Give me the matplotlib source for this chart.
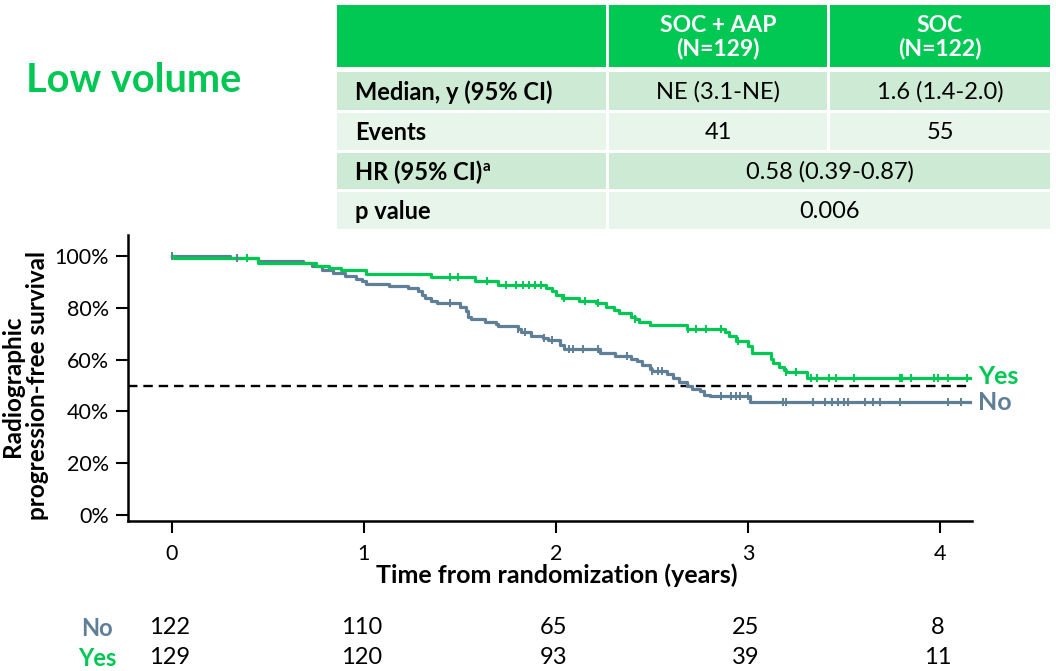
import numpy as np
import matplotlib
matplotlib.use("Agg")
import matplotlib.pyplot as plt
import matplotlib.transforms as mtransforms
from matplotlib.patches import Rectangle

GREEN = "#00C853"
SLATE = "#5E7F95"
ROW_DARK = "#CDEBD4"
ROW_LIGHT = "#E7F5EA"

# Kaplan-Meier steps (years, % progression-free)
no_times = [0.30, 0.45, 0.68, 0.73, 0.78, 0.84, 0.90, 0.96, 0.99, 1.01,
            1.13, 1.23, 1.28, 1.30, 1.32, 1.35, 1.38, 1.50, 1.53, 1.54,
            1.56, 1.63, 1.69, 1.70, 1.80, 1.82, 1.87, 1.93, 1.96, 2.02,
            2.04, 2.23, 2.31, 2.39, 2.42, 2.45, 2.49, 2.50, 2.58, 2.61,
            2.64, 2.68, 2.71, 2.75, 2.77, 2.80, 3.01]
no_surv = [99.2, 97.9, 97.2, 96.2, 94.7, 93.4, 92.1, 91.2, 90.2, 89.3,
           88.5, 87.6, 86.3, 85.0, 83.7, 82.7, 81.7, 80.5, 78.6, 76.6,
           75.6, 74.7, 73.7, 72.8, 71.9, 70.6, 69.2, 68.3, 67.4, 65.7,
           64.2, 62.5, 61.2, 60.3, 59.3, 58.0, 56.4, 55.7, 54.4, 52.8,
           51.2, 49.9, 48.7, 47.7, 46.4, 45.8, 43.6]
no_censor = [0.0, 0.34, 1.45, 1.80, 1.84, 1.94, 1.98, 2.07, 2.09, 2.14,
             2.22, 2.37, 2.50, 2.53, 2.55, 2.86, 2.91, 2.94, 2.96, 3.00,
             3.18, 3.20, 3.34, 3.40, 3.44, 3.47, 3.50, 3.52, 3.61, 3.65,
             3.69, 3.79, 4.04, 4.11]

yes_times = [0.01, 0.45, 0.75, 0.82, 0.88, 1.01, 1.35, 1.58, 1.70, 1.95,
             1.98, 2.00, 2.03, 2.12, 2.21, 2.26, 2.30, 2.33, 2.39, 2.41,
             2.43, 2.49, 2.68, 2.88, 2.90, 2.94, 3.00, 3.02, 3.12, 3.13,
             3.16, 3.19, 3.20, 3.31]
yes_surv = [99.2, 97.4, 96.1, 95.3, 94.7, 93.1, 91.7, 90.2, 88.8, 87.6,
            86.3, 84.9, 83.8, 82.7, 81.8, 80.5, 79.2, 77.9, 76.6, 75.8,
            74.7, 73.4, 71.9, 70.6, 69.3, 67.3, 65.1, 62.5, 60.3, 58.6,
            57.3, 56.1, 55.1, 52.8]
yes_censor = [0.39, 1.45, 1.49, 1.64, 1.74, 1.79, 1.83, 1.86, 1.89, 1.92,
              2.04, 2.15, 2.22, 2.41, 2.69, 2.73, 2.78, 2.86, 2.95, 3.20,
              3.25, 3.33, 3.36, 3.42, 3.46, 3.55, 3.79, 3.80, 3.85, 3.97,
              3.99, 4.04, 4.14]

t_end = 4.16

# numbers at risk
risk_times = [0, 1, 2, 3, 4]
risk_no = [122, 110, 65, 25, 8]
risk_yes = [129, 120, 93, 39, 11]

# summary table
col_heads = ["SOC + AAP\n(N=129)", "SOC\n(N=122)"]
row_labels = ["Median, y (95% CI)", "Events", "HR (95% CI)", "p value"]
row_values = [["NE (3.1-NE)", "1.6 (1.4-2.0)"], ["41", "55"],
              ["0.58 (0.39-0.87)"], ["0.006"]]
row_sups = ["", "", "a", ""]

plt.rcParams['font.family'] = ['Lato', 'DejaVu Sans']

W, H = 1056, 671
fig = plt.figure(figsize=(W / 100, H / 100), dpi=100)

# pixel-space layer for title and table
lay = fig.add_axes([0, 0, 1, 1], zorder=0)
lay.set_xlim(0, W)
lay.set_ylim(H, 0)
lay.axis("off")

lay.text(26, 81, "Low volume", color=GREEN, fontsize=28.5, fontweight="bold",
         ha="left", va="center")

col_x = [337, 609, 830, 1053]
gap = 3
head_y = (5, 67)
rows_y = [(72, 110), (113, 150), (153, 189), (192, 229)]

lay.add_patch(Rectangle((col_x[0], head_y[0]), col_x[1] - col_x[0] - gap,
                        head_y[1] - head_y[0], color=GREEN, lw=0))
for j, head in enumerate(col_heads):
    x0, x1 = col_x[j + 1], col_x[j + 2]
    lay.add_patch(Rectangle((x0, head_y[0]), x1 - x0 - gap,
                            head_y[1] - head_y[0], color=GREEN, lw=0))
    lay.text((x0 + x1 - gap) / 2, (head_y[0] + head_y[1]) / 2 + 1, head,
             color="white", fontsize=16.5, fontweight="bold", ha="center",
             va="center", linespacing=1.1)

for i, (lab, vals) in enumerate(zip(row_labels, row_values)):
    y0, y1 = rows_y[i]
    shade = ROW_DARK if i % 2 == 0 else ROW_LIGHT
    lay.add_patch(Rectangle((col_x[0], y0), col_x[1] - col_x[0] - gap,
                            y1 - y0, color=shade, lw=0))
    t = lay.text(355, (y0 + y1) / 2 + 1, lab, fontsize=17, fontweight="bold",
                 ha="left", va="center")
    if row_sups[i]:
        lay.annotate(row_sups[i], xy=(1, 1), xycoords=t, fontsize=11,
                     fontweight="bold", ha="left", va="top",
                     xytext=(0.5, 0), textcoords="offset points")
    if len(vals) == 2:
        spans = [(col_x[1], col_x[2]), (col_x[2], col_x[3])]
    else:
        spans = [(col_x[1], col_x[3])]
    for v, (x0, x1) in zip(vals, spans):
        lay.add_patch(Rectangle((x0, y0), x1 - x0 - gap, y1 - y0,
                                color=shade, lw=0))
        lay.text((x0 + x1 - gap) / 2, (y0 + y1) / 2 + 1, v, fontsize=17,
                 ha="center", va="center")

# survival plot
ax = fig.add_axes([128 / W, 1 - 521 / H, 844 / W, 286 / H], zorder=1)
ax.patch.set_alpha(0)


def km_steps(times, surv):
    xs = np.r_[0.0, times, t_end]
    ys = np.r_[100.0, surv, surv[-1]]
    return xs, ys


def censor_y(times, surv, cens):
    xs, ys = km_steps(times, surv)
    idx = np.searchsorted(xs, cens, side="right") - 1
    return ys[idx]


for times, surv, cens, col in [(no_times, no_surv, no_censor, SLATE),
                               (yes_times, yes_surv, yes_censor, GREEN)]:
    xs, ys = km_steps(times, surv)
    ax.step(xs, ys, where="post", color=col, lw=2.3, zorder=3)
    ax.plot(cens, censor_y(times, surv, cens), ls="none", marker="|",
            ms=6, mew=1.4, color=col, zorder=4)

ax.axhline(50, color="black", lw=1.7, ls=(0, (4, 2.5)), zorder=2)

ax.text(4.20, yes_surv[-1] + 0.8, "Yes", color=GREEN, fontsize=18,
        fontweight="bold", ha="left", va="center", clip_on=False)
ax.text(4.20, no_surv[-1] - 0.3, "No", color=SLATE, fontsize=18,
        fontweight="bold", ha="left", va="center", clip_on=False)

ax.set_xlim(-0.229, 4.167)
ax.set_ylim(-2.3, 108.1)
ax.set_xticks(risk_times)
ax.set_yticks([0, 20, 40, 60, 80, 100])
ax.set_yticklabels([f"{v}%" for v in [0, 20, 40, 60, 80, 100]])
for side in ["top", "right"]:
    ax.spines[side].set_visible(False)
for side in ["bottom", "left"]:
    ax.spines[side].set_linewidth(1.8)
ax.tick_params(axis="both", length=8.5, width=1.5, labelsize=15.5)
ax.tick_params(axis="x", pad=8)
ax.tick_params(axis="y", pad=5)

fig.text(557 / W, 1 - 575 / H, "Time from randomization (years)",
         fontsize=18, fontweight="bold", ha="center", va="center")
# the reference crops the first line at the left edge; keep it just inside
fig.text(25 / W, 1 - 386 / H, "Radiographic\nprogression-free survival",
         fontsize=17.5, fontweight="bold", rotation=90, ha="center",
         va="center", multialignment="center", linespacing=1.15)

# numbers at risk
risk_tr = mtransforms.blended_transform_factory(ax.transData, fig.transFigure)
for label, counts, col, ypix in [("No", risk_no, SLATE, 628),
                                 ("Yes", risk_yes, GREEN, 658)]:
    fig.text(97 / W, 1 - ypix / H, label, color=col, fontsize=17,
             fontweight="bold", ha="center", va="center")
    for tx, n in zip(risk_times, counts):
        fig.text(tx - 0.012, 1 - ypix / H, str(n), transform=risk_tr,
                 fontsize=17, ha="center", va="center")

fig.savefig("out.png", dpi=100)
